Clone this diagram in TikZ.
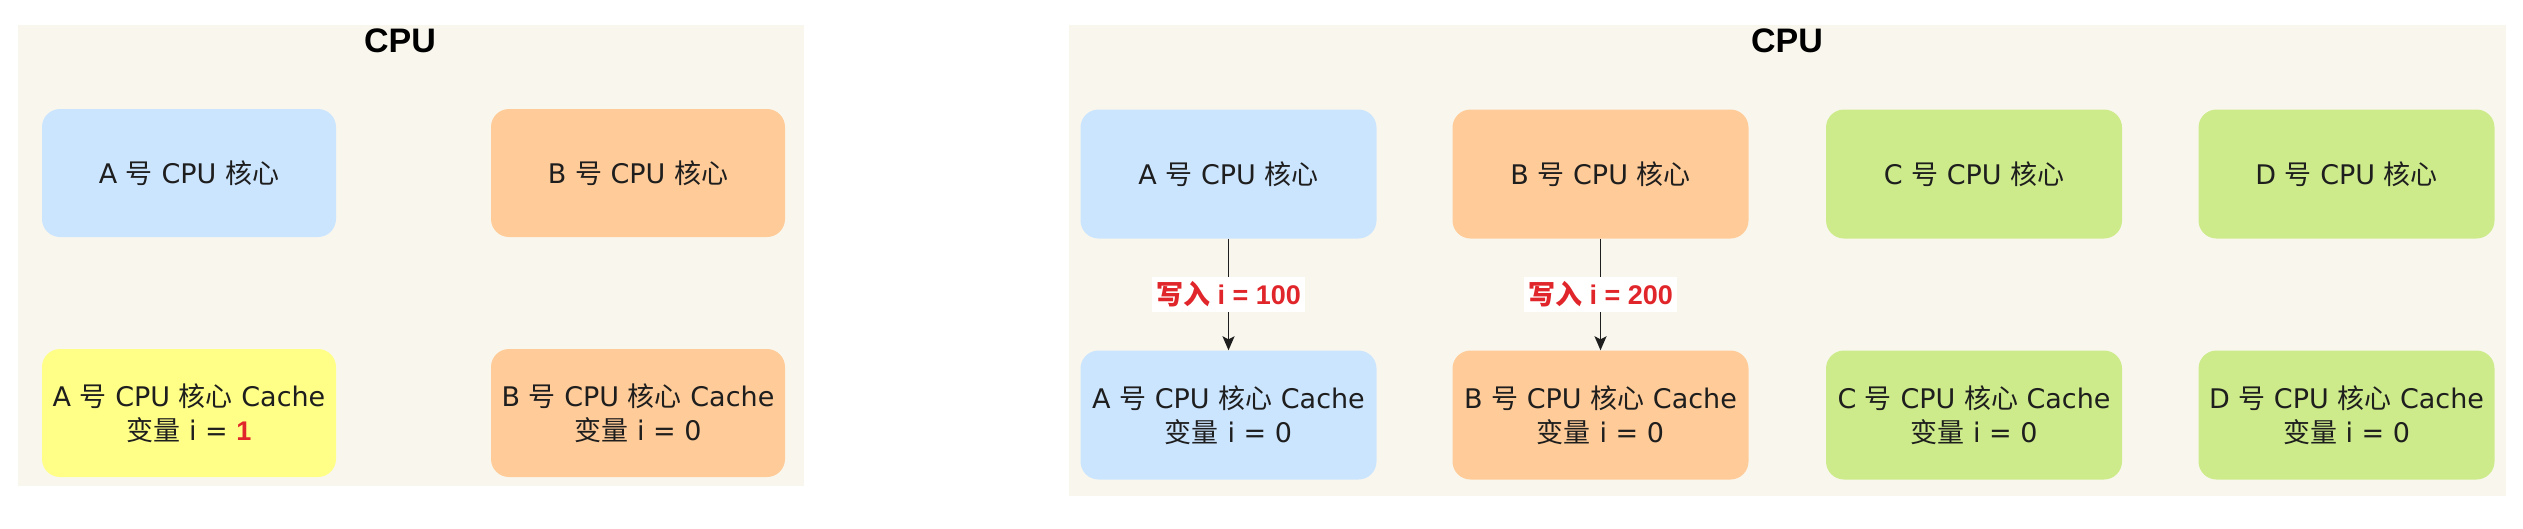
\documentclass[tikz,border=0pt]{standalone}
\usepackage{fontspec}
\setmainfont{DejaVu Sans}
\newfontfamily\cjk{Noto Sans CJK SC}
\newfontfamily\hfont{Liberation Sans}
\newcommand\zh[1]{{\cjk #1}}
\usetikzlibrary{arrows.meta}
\definecolor{panelbg}{HTML}{F9F7ED}
\definecolor{txt}{HTML}{1E1E1E}
\definecolor{cblue}{HTML}{CCE5FF}
\definecolor{corange}{HTML}{FFCC99}
\definecolor{cyellow}{HTML}{FFFF88}
\definecolor{cgreen}{HTML}{CDEB8B}
\definecolor{lblred}{HTML}{E0262B}
\begin{document}
\begin{tikzpicture}[x=1pt,y=-1pt,
  panel/.style={fill=panelbg, draw=none},
  box/.style={rectangle, rounded corners=18pt, minimum width=296pt, minimum height=129pt,
    draw=none, text=txt, font=\fontsize{27}{34}\selectfont, align=center, inner sep=0pt},
  title/.style={text=black, font=\hfont\bfseries\fontsize{34}{40}\selectfont, inner sep=0pt},
  conn/.style={draw=txt, line width=1.6pt, -{Stealth[length=14pt,width=12pt,inset=3pt]}},
  lbl/.style={fill=white, text=lblred, inner xsep=4pt, inner ysep=5pt,
    font=\hfont\bfseries\fontsize{27}{30}\selectfont}]
\useasboundingbox (0,0) rectangle (2523,528);
\fill[white] (0,0) rectangle (2523,528);

% left panel
\path[panel] (18,25) rectangle (804,486);
\node[title] (t1) at (400,41) {CPU};
\node[box, fill=cblue, minimum width=294pt, minimum height=128pt] (la) at (189,173) {A \zh{号} CPU \zh{核心}};
\node[box, fill=corange, minimum width=294pt, minimum height=128pt] (lb) at (638,173) {B \zh{号} CPU \zh{核心}};
\node[box, fill=cyellow, minimum width=294pt, minimum height=128pt] (lac) at (189,413) {A \zh{号} CPU \zh{核心} Cache\\\zh{变量} i = {\color{lblred}\hfont\bfseries 1}};
\node[box, fill=corange, minimum width=294pt, minimum height=128pt] (lbc) at (638,413) {B \zh{号} CPU \zh{核心} Cache\\\zh{变量} i = 0};

% right panel
\path[panel] (1069,25) rectangle (2506,496);
\node[title] (t2) at (1787,41) {CPU};
\node[box, fill=cblue] (ra) at (1228.5,174) {A \zh{号} CPU \zh{核心}};
\node[box, fill=corange] (rb) at (1600.5,174) {B \zh{号} CPU \zh{核心}};
\node[box, fill=cgreen] (rc) at (1974,174) {C \zh{号} CPU \zh{核心}};
\node[box, fill=cgreen] (rd) at (2346.5,174) {D \zh{号} CPU \zh{核心}};
\node[box, fill=cblue] (rac) at (1228.5,415) {A \zh{号} CPU \zh{核心} Cache\\\zh{变量} i = 0};
\node[box, fill=corange] (rbc) at (1600.5,415) {B \zh{号} CPU \zh{核心} Cache\\\zh{变量} i = 0};
\node[box, fill=cgreen] (rcc) at (1974,415) {C \zh{号} CPU \zh{核心} Cache\\\zh{变量} i = 0};
\node[box, fill=cgreen] (rdc) at (2346.5,415) {D \zh{号} CPU \zh{核心} Cache\\\zh{变量} i = 0};

\draw[conn] (ra) -- node[lbl] {{\cjk\bfseries 写入} i = 100} (rac);
\draw[conn] (rb) -- node[lbl] {{\cjk\bfseries 写入} i = 200} (rbc);
\end{tikzpicture}
\end{document}
